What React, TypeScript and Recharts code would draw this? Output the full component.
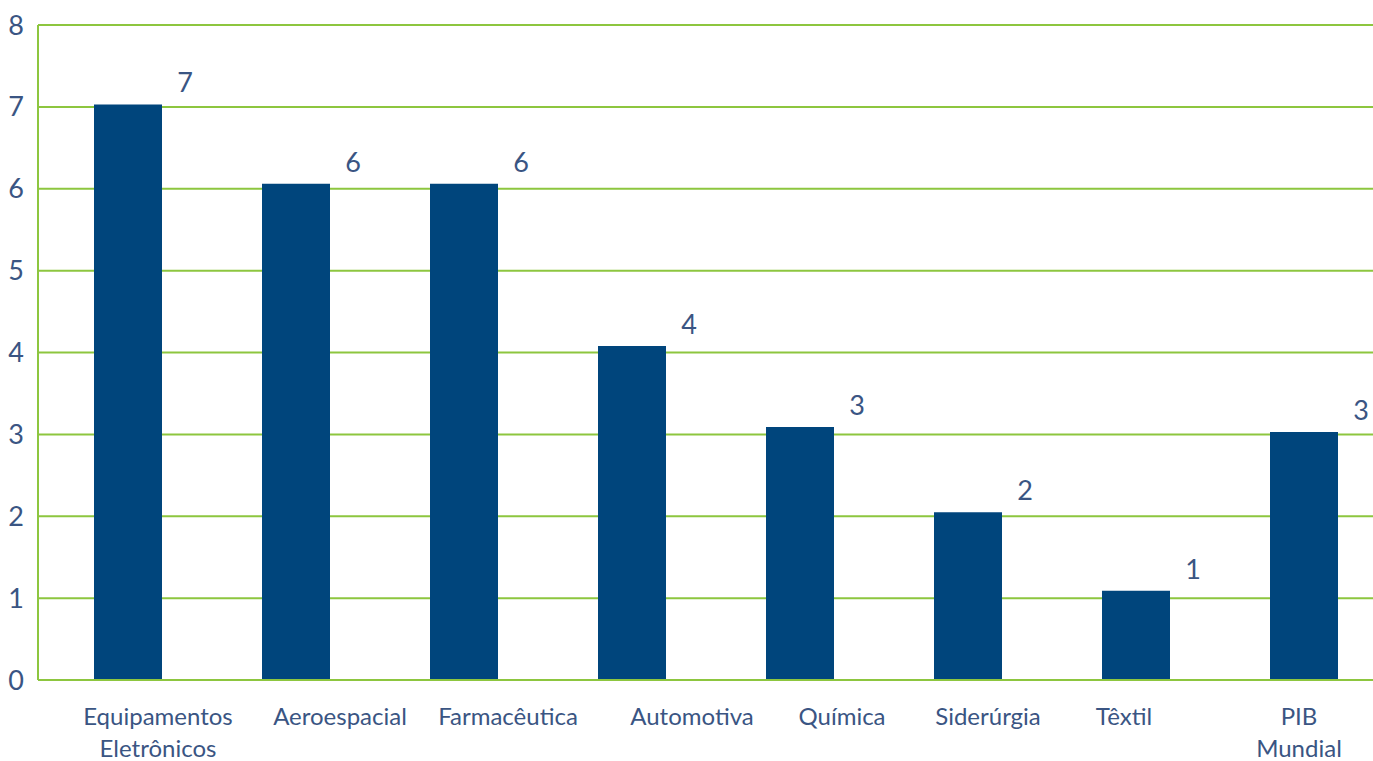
import { BarChart, Bar, XAxis, YAxis, CartesianGrid, LabelList } from 'recharts'

const sectors = [
  'Equipamentos Eletrônicos',
  'Aeroespacial',
  'Farmacêutica',
  'Automotiva',
  'Química',
  'Siderúrgia',
  'Têxtil',
  'PIB Mundial',
]
const growth = [7.03, 6.06, 6.06, 4.08, 3.09, 2.05, 1.09, 3.03]
const yTicks = [0, 1, 2, 3, 4, 5, 6, 7, 8]

const data = sectors.map((name, i) => ({ name, value: growth[i] }))

const GREEN = '#8dc63f'
const NAVY = '#00457c'
const TEXT = '#3a5583'
const FONT = 'Lato, sans-serif'

// rótulos de duas linhas quebram no espaço
const twoLine = ['Equipamentos Eletrônicos', 'PIB Mundial']
// no original os rótulos não ficam bem centrados sob as barras
const tickNudge = [30, 44, 44, 60, 42, 20, -12, -5]

const CategoryTick = (props: any) => {
  const { x, y, payload, index } = props
  const label: string = payload.value
  const lines = twoLine.includes(label) ? label.split(' ') : [label]
  const cx = x + (tickNudge[index] ?? 0)
  return (
    <text x={cx} y={y + 28} textAnchor="middle" fill={TEXT} fontSize={24} fontFamily={FONT}>
      {lines.map((l, i) => (
        <tspan key={i} x={cx} dy={i === 0 ? 9 : 32}>{l}</tspan>
      ))}
    </text>
  )
}

const ValueLabel = (props: any) => {
  const { x, y, width, value } = props
  return (
    <text x={x + width + 23} y={y - 12} textAnchor="middle" fill={TEXT} fontSize={27} fontFamily={FONT}>
      {Math.round(value)}
    </text>
  )
}

const App = () => {
  return (
    <div style={{ position: 'absolute', left: 0, top: 0, width: 1373, height: 761, overflow: 'hidden', background: '#fff' }}>
      <BarChart width={1388} height={761} data={data} margin={{ top: 25, right: 0, bottom: 0, left: 0 }}>
        <CartesianGrid vertical={false} stroke={GREEN} strokeWidth={2} />
        <XAxis
          dataKey="name"
          height={81}
          interval={0}
          padding={{ left: 6, right: 0 }}
          axisLine={{ stroke: GREEN, strokeWidth: 2 }}
          tickLine={false}
          tick={<CategoryTick />}
        />
        <YAxis
          width={38}
          domain={[0, 8]}
          ticks={yTicks}
          interval={0}
          axisLine={{ stroke: GREEN, strokeWidth: 2 }}
          tickLine={false}
          tickMargin={8}
          tick={{ fill: TEXT, fontSize: 27, fontFamily: FONT }}
        />
        <Bar dataKey="value" fill={NAVY} barSize={68} isAnimationActive={false}>
          <LabelList dataKey="value" content={<ValueLabel />} />
        </Bar>
      </BarChart>
    </div>
  )
}

export default App
